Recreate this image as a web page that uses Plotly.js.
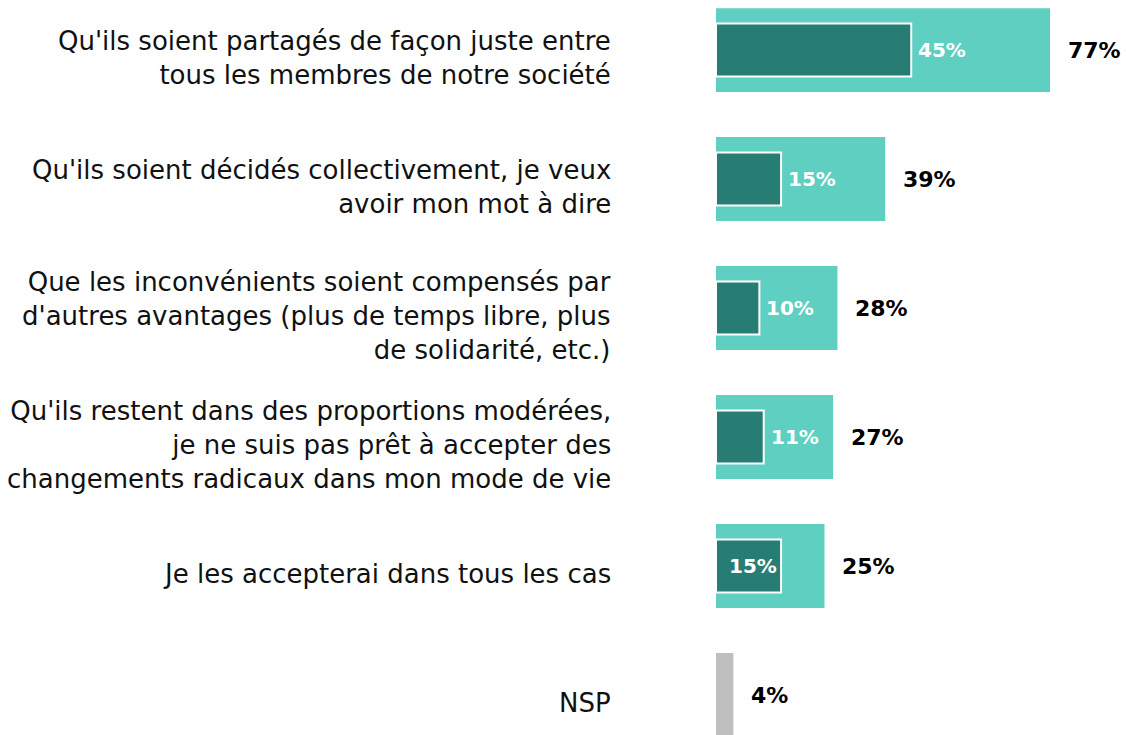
<!DOCTYPE html>
<html>
<head>
<meta charset="utf-8">
<script src="https://cdn.plot.ly/plotly-3.0.1.min.js"></script>
<style>
  html, body { margin: 0; padding: 0; background: #fff; }
  #chart { width: 1126px; height: 735px; }
</style>
</head>
<body>
<div id="chart"></div>
<script>
// answer categories, top to bottom
const labels = [
  "Qu'ils soient partagés de façon juste entre<br>tous les membres de notre société",
  "Qu'ils soient décidés collectivement, je veux<br>avoir mon mot à dire",
  "Que les inconvénients soient compensés par<br>d'autres avantages (plus de temps libre, plus<br>de solidarité, etc.)",
  "Qu'ils restent dans des proportions modérées,<br>je ne suis pas prêt à accepter des<br>changements radicaux dans mon mode de vie",
  "Je les accepterai dans tous les cas",
  "NSP"
];
// total (all mentions) and first mention
const totals = [77, 39, 28, 27, 25, 4];
const firsts = [45, 15, 10, 11, 15, null];

const rows = labels.map((_, i) => i);
const lightColor = '#5ecfc1';
const darkColor = '#277d74';
const greyColor = '#bfbfbf';
const font = 'DejaVu Sans, sans-serif';

const traceTotal = {
  type: 'bar',
  orientation: 'h',
  x: totals,
  y: rows,
  width: 0.65,
  marker: { color: rows.map(i => labels[i] === 'NSP' ? greyColor : lightColor) },
  hoverinfo: 'skip'
};
const traceFirst = {
  type: 'bar',
  orientation: 'h',
  x: firsts,
  y: rows,
  width: 0.41,
  marker: { color: darkColor, line: { color: '#ffffff', width: 2 } },
  hoverinfo: 'skip'
};

const annotations = [];
labels.forEach((lab, i) => {
  annotations.push({
    xref: 'paper', yref: 'y', x: -0.251, y: i,
    xanchor: 'right', yanchor: 'middle', align: 'right',
    text: lab, showarrow: false, yshift: -8,
    font: { family: font, size: 26, color: '#111' }
  });
  annotations.push({
    xref: 'x', yref: 'y', x: totals[i], y: i,
    xanchor: 'left', yanchor: 'middle',
    text: '<b>' + totals[i] + '%</b>', showarrow: false, xshift: 16,
    font: { family: font, size: 22, color: '#000' }
  });
  if (firsts[i] !== null) {
    const last = i === 4;
    annotations.push({
      xref: 'x', yref: 'y', x: firsts[i], y: i,
      xanchor: last ? 'right' : 'left', yanchor: 'middle',
      text: '<b>' + firsts[i] + '%</b>', showarrow: false,
      xshift: last ? -2 : 5,
      font: { family: font, size: 20, color: '#ffffff' }
    });
  }
});

const layout = {
  barmode: 'overlay',
  showlegend: false,
  margin: { l: 716, r: 0, t: 0, b: 0 },
  width: 1126,
  height: 735,
  paper_bgcolor: '#ffffff',
  plot_bgcolor: '#ffffff',
  xaxis: { range: [0, 94.5], visible: false, fixedrange: true },
  yaxis: { range: [5.31, -0.388], visible: false, fixedrange: true },
  annotations: annotations
};

Plotly.newPlot('chart', [traceTotal, traceFirst], layout, { displayModeBar: false, staticPlot: true });
</script>
</body>
</html>
